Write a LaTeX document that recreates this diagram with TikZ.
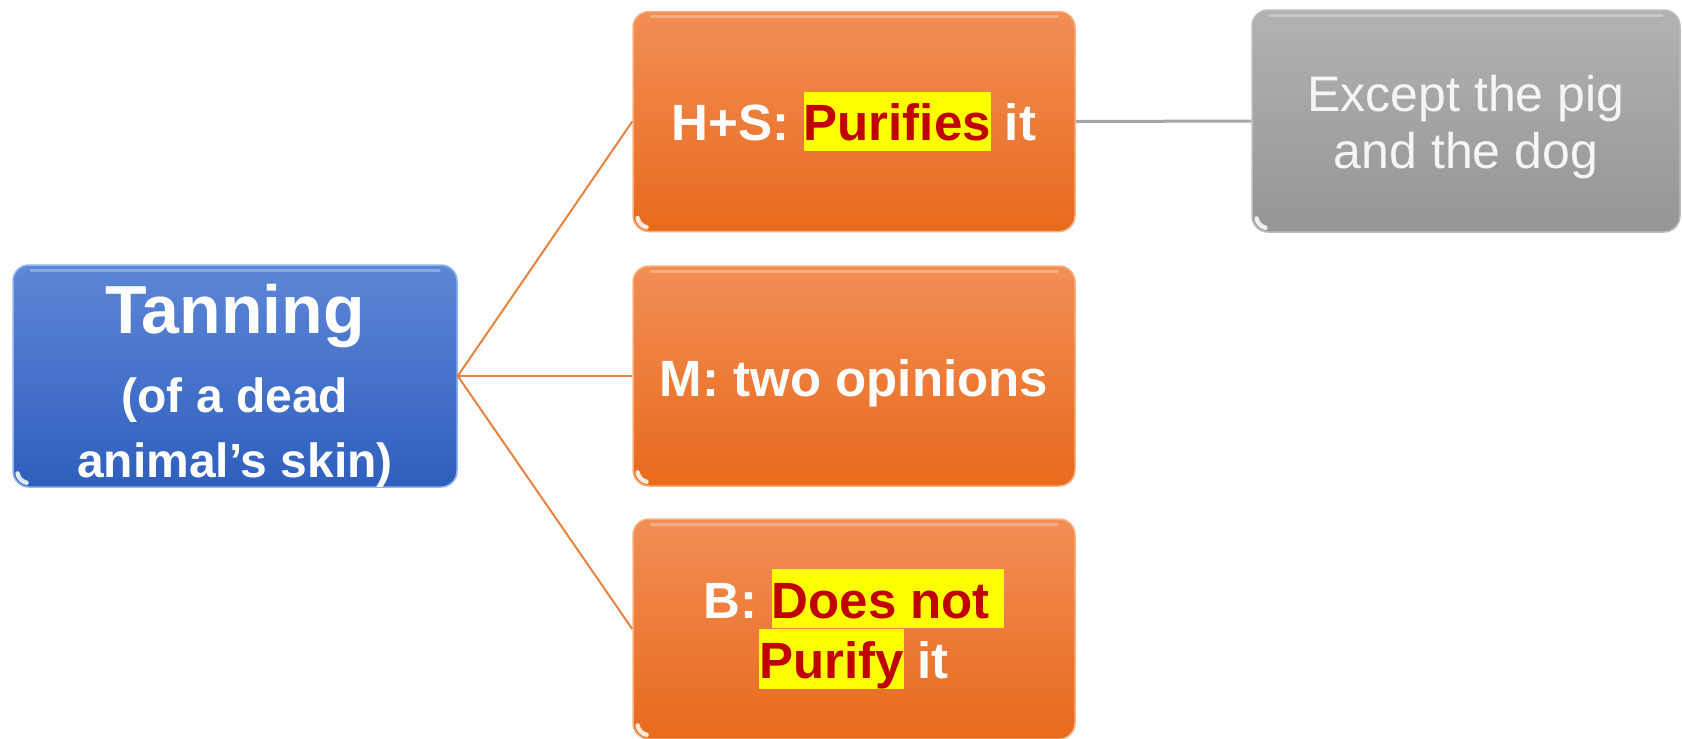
\documentclass[tikz,border=0pt]{standalone}
\usepackage{fontspec}
\setmainfont{Liberation Sans}
\definecolor{bluetop}{HTML}{5C86D6}
\definecolor{bluebot}{HTML}{2F5FBE}
\definecolor{bluerim}{HTML}{8FB4F0}
\definecolor{orangetop}{HTML}{F28E55}
\definecolor{orangebot}{HTML}{E86A1C}
\definecolor{orangerim}{HTML}{F7B07E}
\definecolor{graytop}{HTML}{B2B2B2}
\definecolor{graybot}{HTML}{959595}
\definecolor{grayrim}{HTML}{BDBDBD}
\definecolor{linkorange}{HTML}{E8823F}
\definecolor{linkgray}{HTML}{A6A6A6}
\definecolor{hlyellow}{HTML}{FFFF00}
\definecolor{hlred}{HTML}{C00000}
\newcommand\hlword[1]{{\setlength\fboxsep{0pt}\colorbox{hlyellow}{\color{hlred}\rule[-0.2em]{0pt}{1.16em}#1}}}
\tikzset{
  boxbase/.style={rectangle, rounded corners=16pt, line width=1.5pt, inner sep=0pt,
    align=center, text=white,
    path picture={
      \draw[white, line width=4.5pt, opacity=0.85, line cap=round]
        ([shift={(4.6pt,13.5pt)}]path picture bounding box.south west)
        arc[start angle=190, end angle=258, radius=11.5pt];
      \draw[white, line width=3pt, opacity=0.3, line cap=round]
        ([shift={(18pt,-5pt)}]path picture bounding box.north west) --
        ([shift={(-18pt,-5pt)}]path picture bounding box.north east);}},
  bluebox/.style={boxbase, top color=bluetop, bottom color=bluebot, draw=bluerim,
    minimum width=444pt, minimum height=222pt},
  orangebox/.style={boxbase, top color=orangetop, bottom color=orangebot, draw=orangerim,
    minimum width=442pt, minimum height=220pt,
    font=\bfseries\fontsize{51}{53}\selectfont},
  graybox/.style={boxbase, top color=graytop, bottom color=graybot, draw=grayrim,
    minimum width=428pt, minimum height=222pt,
    font=\fontsize{50}{57}\selectfont, text=white!96!black},
  olink/.style={draw=linkorange, line width=2pt},
  glink/.style={draw=linkgray, line width=3pt}
}
\begin{document}
\begin{tikzpicture}[x=1pt, y=-1pt]
\useasboundingbox (0,0) rectangle (1682,739);
\node[bluebox, font=\bfseries\fontsize{48}{65}\selectfont] (tan) at (235,376)
  {{\fontsize{68}{68}\selectfont\rule{0pt}{68pt}Tanning}\\[14pt](of a dead\\animal’s skin)};
\node[orangebox] (hs) at (854,121.5) {H+S: \hlword{Purifies} it};
\node[orangebox] (m) at (854,376) {\rule{0pt}{52pt}M: two opinions};
\node[orangebox] (b) at (854,629) {B: \hlword{Does not\ }\\\hlword{Purify} it};
\node[graybox] (ex) at (1466,121) {\rule{0pt}{49pt}Except the pig\\and the dog};
\draw[olink] (tan.east) -- (hs.west);
\draw[olink] (tan.east) -- (m.west);
\draw[olink] (tan.east) -- (b.west);
\draw[glink] (hs.east) -- (ex.west);
\end{tikzpicture}
\end{document}
